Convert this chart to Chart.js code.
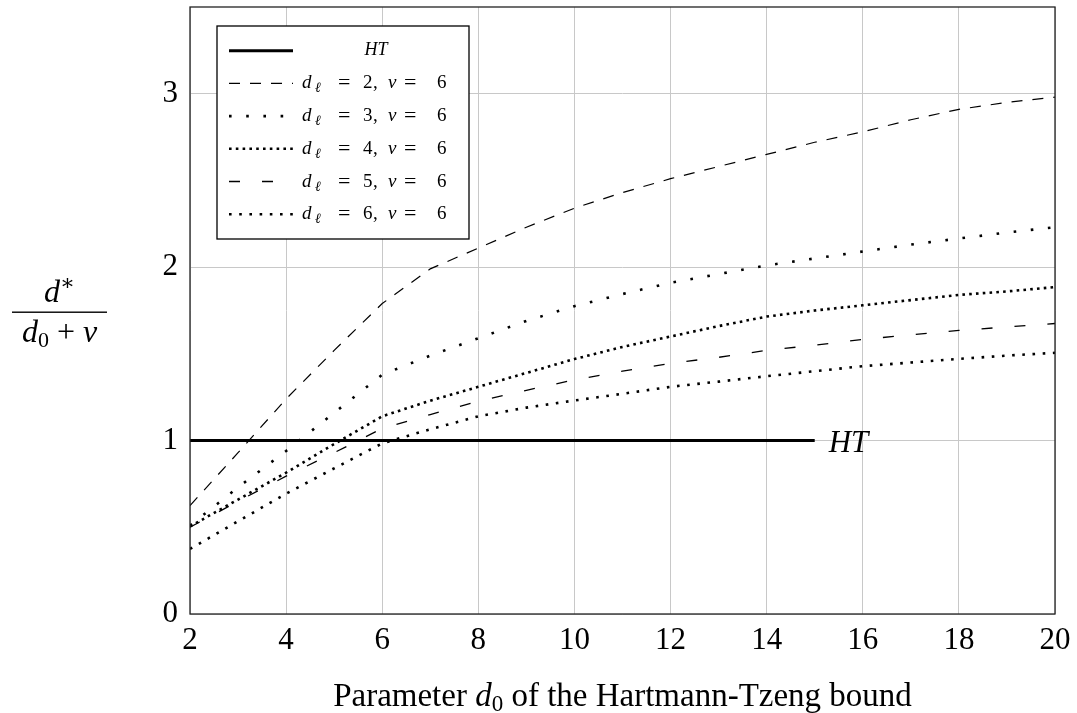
<!DOCTYPE html>
<html>
<head>
<meta charset="utf-8">
<script src="https://cdn.jsdelivr.net/npm/chart.js@4.4.1/dist/chart.umd.min.js"></script>
<style>
html, body { margin: 0; padding: 0; background: #fff; }
</style>
</head>
<body>
<canvas id="grafico-ht" width="1077" height="713"></canvas>
<script>
// Valores
const d0Values = [2, 3, 4, 5, 6, 7, 8, 9, 10, 11, 12, 13, 14, 15, 16, 17, 18, 19, 20];
const d2Values = [0.625, 0.93, 1.24, 1.52, 1.79, 1.99, 2.11, 2.23, 2.34, 2.43, 2.51, 2.58, 2.65, 2.72, 2.78, 2.85, 2.91, 2.95, 2.98];
const d3Values = [0.51, 0.73, 0.94, 1.16, 1.38, 1.49, 1.59, 1.69, 1.775, 1.845, 1.91, 1.96, 2.01, 2.05, 2.09, 2.13, 2.165, 2.20, 2.23];
const d4Values = [0.505, 0.66, 0.815, 0.98, 1.14, 1.23, 1.31, 1.39, 1.47, 1.54, 1.60, 1.66, 1.715, 1.75, 1.78, 1.81, 1.84, 1.86, 1.885];
const d5Values = [0.5, 0.65, 0.795, 0.93, 1.07, 1.15, 1.227, 1.29, 1.35, 1.40, 1.445, 1.48, 1.52, 1.55, 1.583, 1.61, 1.635, 1.655, 1.675];
const d6Values = [0.375, 0.535, 0.694, 0.84, 0.984, 1.065, 1.14, 1.19, 1.231, 1.27, 1.31, 1.34, 1.371, 1.40, 1.429, 1.45, 1.471, 1.49, 1.506];
const htX = [2, 15];
const htY = [1, 1];
const dlLabels = [2, 3, 4, 5, 6];
const nuValue = 6;
const xTicks = [2, 4, 6, 8, 10, 12, 14, 16, 18, 20];
const yTicks = [0, 1, 2, 3];

const serif = "'Liberation Serif', 'DejaVu Serif', serif";

const pontos = (xs, ys) => xs.map((x, i) => ({ x: x, y: ys[i] }));

// estilos das linhas (mesma ordem da legenda)
const estilos = [
    { width: 3, dash: [] },
    { width: 1.2, dash: [11, 10] },
    { width: 2.6, dash: [2.6, 14.6] },
    { width: 2.6, dash: [2.6, 4.2] },
    { width: 1.3, dash: [11, 22] },
    { width: 2.6, dash: [2.6, 7.6] }
];

const series = [htY, d2Values, d3Values, d4Values, d5Values, d6Values];

const datasets = series.map((s, i) => ({
    label: i === 0 ? 'HT' : `dℓ = ${dlLabels[i - 1]}, ν = ${nuValue}`,
    data: i === 0 ? pontos(htX, htY) : pontos(d0Values, s),
    borderColor: '#000',
    borderWidth: estilos[i].width,
    borderDash: estilos[i].dash,
    borderCapStyle: 'butt',
    pointRadius: 0,
    fill: false,
    tension: 0
}));

// desenha um texto com partes em itálico / subscrito
function textoRico(ctx, partes, x, y) {
    let cx = x;
    partes.forEach(p => {
        ctx.font = `${p.italic ? 'italic ' : ''}${p.size}px ${serif}`;
        ctx.fillText(p.t, p.at !== undefined ? x + p.at : cx, y + (p.dy || 0));
        cx += ctx.measureText(p.t).width + (p.gap || 0);
    });
    return cx - x;
}
function larguraRica(ctx, partes) {
    let w = 0;
    partes.forEach(p => {
        ctx.font = `${p.italic ? 'italic ' : ''}${p.size}px ${serif}`;
        w += ctx.measureText(p.t).width + (p.gap || 0);
    });
    return w;
}

const extras = {
    id: 'extras',
    afterDraw(chart) {
        const ctx = chart.ctx;
        const area = chart.chartArea;
        const xs = chart.scales.x;
        const ys = chart.scales.y;
        ctx.save();
        ctx.fillStyle = '#000';
        ctx.textBaseline = 'alphabetic';
        ctx.textAlign = 'left';

        // moldura
        ctx.strokeStyle = '#222';
        ctx.lineWidth = 1.3;
        ctx.setLineDash([]);
        ctx.strokeRect(area.left, area.top, area.right - area.left, area.bottom - area.top);

        // rótulo HT no fim da linha
        textoRico(ctx, [{ t: 'HT', italic: true, size: 31 }], xs.getPixelForValue(htX[1]) + 14, ys.getPixelForValue(htY[1]) + 11);

        // legenda
        const lx = 217, ly = 26, lw = 252, lh = 213;
        ctx.fillStyle = '#fff';
        ctx.fillRect(lx, ly, lw, lh);
        ctx.strokeStyle = '#000';
        ctx.lineWidth = 1.3;
        ctx.strokeRect(lx, ly, lw, lh);
        ctx.fillStyle = '#000';
        datasets.forEach((ds, i) => {
            const ry = 50.7 + i * 32.7;
            ctx.beginPath();
            ctx.lineCap = 'butt';
            ctx.lineWidth = ds.borderWidth;
            ctx.setLineDash(ds.borderDash);
            ctx.moveTo(229, ry);
            ctx.lineTo(293, ry);
            ctx.stroke();
            ctx.setLineDash([]);
            if (i === 0) {
                const p = [{ t: 'HT', italic: true, size: 18 }];
                textoRico(ctx, p, 376 - larguraRica(ctx, p) / 2, ry + 4);
            } else {
                textoRico(ctx, [
                    { t: 'd', italic: true, size: 19, at: 0 },
                    { t: 'ℓ', italic: true, size: 14, dy: 4, at: 13 },
                    { t: '=', size: 22, dy: 1, at: 36 },
                    { t: String(dlLabels[i - 1]), size: 19, at: 61 },
                    { t: ',', size: 19, at: 71 },
                    { t: 'ν', italic: true, size: 19, at: 86 },
                    { t: '=', size: 22, dy: 1, at: 102 },
                    { t: String(nuValue), size: 19, at: 135 }
                ], 302, ry + 5);
            }
        });

        // título do eixo x
        const tituloX = [
            { t: 'Parameter ', size: 33 },
            { t: 'd', italic: true, size: 33 },
            { t: '0', size: 23, dy: 5 },
            { t: ' of the Hartmann-Tzeng bound', size: 33 }
        ];
        const wt = larguraRica(ctx, tituloX);
        textoRico(ctx, tituloX, (area.left + area.right) / 2 - wt / 2, 706);

        // título do eixo y (fração)
        const cxf = 59.5;
        const num = [{ t: 'd', italic: true, size: 32 }, { t: '∗', size: 22, dy: -12 }];
        textoRico(ctx, num, cxf - larguraRica(ctx, num) / 2, 302);
        ctx.fillRect(12, 311.5, 95, 1.4);
        const den = [
            { t: 'd', italic: true, size: 32 },
            { t: '0', size: 22, dy: 5, gap: 8 },
            { t: '+', size: 32, gap: 8 },
            { t: 'ν', italic: true, size: 32 }
        ];
        textoRico(ctx, den, cxf - larguraRica(ctx, den) / 2, 342);
        ctx.restore();
    }
};

const configHT = {
    type: 'line',
    data: { datasets: datasets },
    options: {
        responsive: false,
        animation: false,
        layout: { padding: { left: 0, top: 7, right: 22, bottom: 0 } },
        plugins: {
            legend: { display: false },
            tooltip: { enabled: false }
        },
        scales: {
            x: {
                type: 'linear',
                min: 2,
                max: 20,
                afterBuildTicks: s => { s.ticks = xTicks.map(v => ({ value: v })); },
                afterFit: s => { s.height = 99; s.paddingLeft = 0; s.paddingRight = 0; },
                border: { display: false },
                grid: { color: '#c8c8c8', lineWidth: 1, drawTicks: false },
                ticks: { color: '#000', font: { family: serif, size: 31 }, padding: 8, maxRotation: 0 }
            },
            y: {
                type: 'linear',
                min: 0,
                max: 3.5,
                afterBuildTicks: s => { s.ticks = yTicks.map(v => ({ value: v })); },
                afterFit: s => { s.width = 190; s.paddingTop = 0; s.paddingBottom = 0; },
                border: { display: false },
                grid: { color: '#c8c8c8', lineWidth: 1, drawTicks: false },
                ticks: { color: '#000', font: { family: serif, size: 31 }, padding: 12 }
            }
        }
    },
    plugins: [extras]
};

let myChartHT = new Chart(document.getElementById('grafico-ht'), configHT);
</script>
</body>
</html>
